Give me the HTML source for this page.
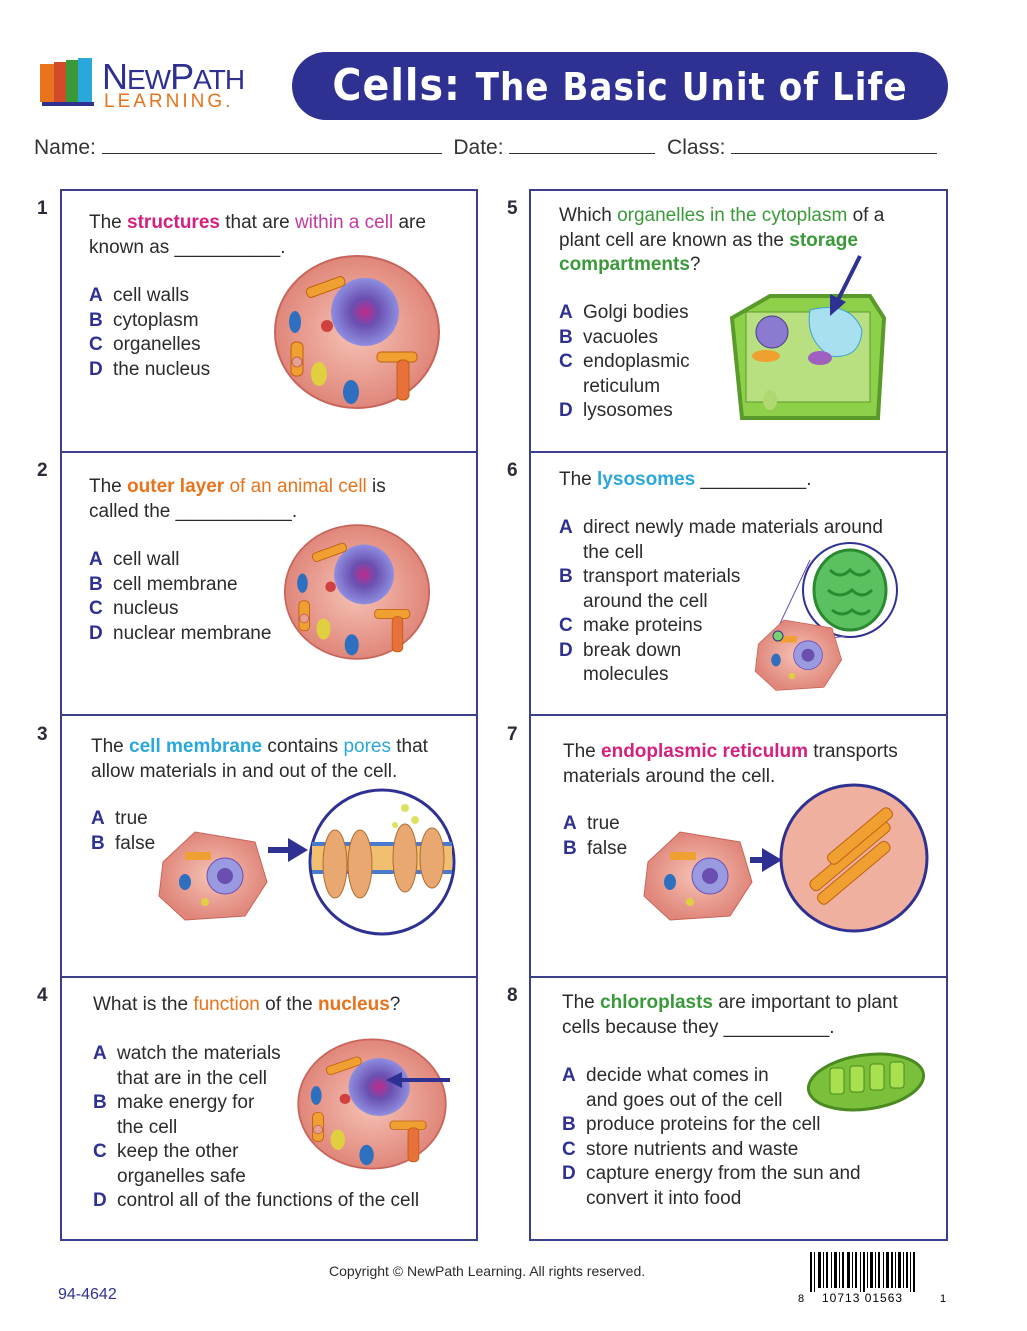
<!DOCTYPE html>
<html><head><meta charset="utf-8"><style>
body{margin:0;width:1027px;height:1331px;background:#fff;position:relative;font-family:"Liberation Sans",sans-serif;color:#2b2b2b;overflow:hidden}
.a{position:absolute}
.t{position:absolute;font-size:19px;line-height:24.5px}
.num{position:absolute;font-size:19px;font-weight:bold;color:#2b2b3b}
b.l{font-weight:bold;color:#2e3192;display:inline-block;width:24px}
.ind{padding-left:24px}
.mag{color:#d4207e}.pk{color:#c23a9e}.or{color:#e8731c}.bl{color:#2aa7dc}.gr{color:#3a9a3a}
.box{position:absolute;border:2px solid #3b3f8c;box-sizing:border-box}
</style></head><body>
<!-- logo -->
<div class="a" style="left:40px;top:58px;width:56px;height:50px">
<div class="a" style="left:0;top:6px;width:14px;height:38px;background:#e8731c"></div>
<div class="a" style="left:14px;top:4px;width:12px;height:40px;background:#d24a2a"></div>
<div class="a" style="left:26px;top:2px;width:12px;height:42px;background:#3a9a3a"></div>
<div class="a" style="left:38px;top:0;width:14px;height:44px;background:#2aa7dc"></div>
<div class="a" style="left:2px;top:44px;width:52px;height:4px;background:#2e3192"></div>
</div>
<div class="a" style="left:102px;top:56px;font-size:36px;color:#2e3192;letter-spacing:-1px">N<span style="font-size:28px">EW</span>P<span style="font-size:28px">ATH</span></div>
<div class="a" style="left:104px;top:91px;font-size:19px;color:#e8731c;letter-spacing:3px">LEARNING.</div>
<div class="a" style="left:292px;top:52px;width:656px;height:68px;background:#2e3192;border-radius:34px"></div>
<div class="a" style="left:292px;top:60px;width:656px;text-align:center;color:#fff;font-size:44px;font-weight:bold;font-family:'DejaVu Sans Condensed','DejaVu Sans','Liberation Sans',sans-serif;font-stretch:condensed;letter-spacing:1px">Cells: <span style="font-size:38px">The Basic Unit of Life</span></div>
<div class="a" style="left:34px;top:136px;font-size:21px;color:#333">Name: <span style="display:inline-block;width:340px;border-bottom:1px solid #333"></span>&nbsp; Date: <span style="display:inline-block;width:146px;border-bottom:1px solid #333"></span>&nbsp; Class: <span style="display:inline-block;width:206px;border-bottom:1px solid #333"></span></div>

<!-- boxes -->
<div class="box" style="left:60px;top:189px;width:418px;height:1052px"></div>
<div class="box" style="left:529px;top:189px;width:419px;height:1052px"></div>
<div class="a" style="left:60px;top:451px;width:418px;height:2px;background:#3b3f8c"></div>
<div class="a" style="left:60px;top:714px;width:418px;height:2px;background:#3b3f8c"></div>
<div class="a" style="left:60px;top:976px;width:418px;height:2px;background:#3b3f8c"></div>
<div class="a" style="left:529px;top:451px;width:419px;height:2px;background:#3b3f8c"></div>
<div class="a" style="left:529px;top:714px;width:419px;height:2px;background:#3b3f8c"></div>
<div class="a" style="left:529px;top:976px;width:419px;height:2px;background:#3b3f8c"></div>

<div class="num" style="left:37px;top:198px">1</div>
<div class="num" style="left:37px;top:460px">2</div>
<div class="num" style="left:37px;top:724px">3</div>
<div class="num" style="left:37px;top:985px">4</div>
<div class="num" style="left:507px;top:198px">5</div>
<div class="num" style="left:507px;top:460px">6</div>
<div class="num" style="left:507px;top:724px">7</div>
<div class="num" style="left:507px;top:985px">8</div>

<svg class="a" style="left:0;top:0" width="1027" height="1331">
<defs>
<radialGradient id="cg"><stop offset="0" stop-color="#f6c3b6"/><stop offset="1" stop-color="#e0867a"/></radialGradient>
<radialGradient id="ng"><stop offset="0" stop-color="#c02a8a"/><stop offset=".4" stop-color="#6a4fb0"/><stop offset="1" stop-color="#8e8ee0"/></radialGradient>
<g id="cell">
<ellipse cx="0" cy="0" rx="82" ry="76" fill="url(#cg)" stroke="#c8645a" stroke-width="2"/>
<circle cx="8" cy="-20" r="34" fill="url(#ng)"/>
<g fill="#f0a030" stroke="#c06010"><rect x="-34" y="-58" width="40" height="10" rx="4" transform="rotate(-20)"/><rect x="20" y="20" width="40" height="10" rx="4"/><rect x="-66" y="10" width="12" height="34" rx="5"/><rect x="40" y="28" width="12" height="40" rx="5" fill="#e8703a"/></g>
<ellipse cx="-62" cy="-10" rx="6" ry="11" fill="#2f6fc0"/><ellipse cx="-6" cy="60" rx="8" ry="12" fill="#2f6fc0"/>
<ellipse cx="-38" cy="42" rx="8" ry="12" fill="#e0d040"/><circle cx="-30" cy="-6" r="6" fill="#d04040"/><circle cx="-60" cy="30" r="5" fill="#e8a090" stroke="#c06060"/>
</g>
<g id="cut">
<path d="M-52,-10 L-20,-40 L40,-30 L52,10 L30,44 L-30,48 L-56,24 Z" fill="url(#cg)" stroke="#c8645a"/>
<circle cx="10" cy="4" r="18" fill="#9a9ae0" stroke="#6a4fb0"/><circle cx="10" cy="4" r="8" fill="#6a4fb0"/>
<rect x="-30" y="-20" width="26" height="8" fill="#f0a030"/><ellipse cx="-30" cy="10" rx="6" ry="8" fill="#2f6fc0"/><circle cx="-10" cy="30" r="4" fill="#e0d040"/>
</g>
</defs>
<use href="#cell" x="357" y="332"/>
<use href="#cell" x="357" y="592" transform="translate(357 592) scale(.88) translate(-357 -592)"/>
<use href="#cell" x="372" y="1104" transform="translate(372 1104) scale(.9 .85) translate(-372 -1104)"/>
<line x1="390" y1="1080" x2="450" y2="1080" stroke="#2e3192" stroke-width="4"/><path d="M386,1080 L402,1072 L402,1088Z" fill="#2e3192"/>
<use href="#cut" x="215" y="872"/>
<line x1="268" y1="850" x2="292" y2="850" stroke="#2e3192" stroke-width="6"/><path d="M308,850 L288,838 L288,862Z" fill="#2e3192"/>
<circle cx="382" cy="862" r="72" fill="#fff" stroke="#2e3192" stroke-width="3"/>
<rect x="312" y="846" width="140" height="24" fill="#f0c070"/><rect x="312" y="842" width="140" height="4" fill="#4a7ad0"/><rect x="312" y="870" width="140" height="4" fill="#4a7ad0"/>
<g fill="#e8a870" stroke="#b06a30"><ellipse cx="335" cy="864" rx="12" ry="34"/><ellipse cx="360" cy="864" rx="12" ry="34"/><ellipse cx="405" cy="858" rx="12" ry="34"/><ellipse cx="432" cy="858" rx="12" ry="30"/></g>
<g fill="#e0e060"><circle cx="405" cy="808" r="4"/><circle cx="415" cy="820" r="4"/><circle cx="395" cy="825" r="3"/></g>
<use href="#cut" x="700" y="872"/>
<line x1="750" y1="860" x2="766" y2="860" stroke="#2e3192" stroke-width="6"/><path d="M782,860 L762,848 L762,872Z" fill="#2e3192"/>
<circle cx="854" cy="858" r="73" fill="#f0b0a0" stroke="#2e3192" stroke-width="3"/>
<g fill="#f0a030" stroke="#c06010"><rect x="800" y="850" width="100" height="12" rx="5" transform="rotate(-40 850 856)"/><rect x="810" y="870" width="90" height="12" rx="5" transform="rotate(-40 850 876)"/><rect x="820" y="830" width="80" height="12" rx="5" transform="rotate(-40 860 836)"/></g>
<path d="M732,318 L770,296 L870,296 L884,318 L878,418 L742,418 Z" fill="#8fd04a" stroke="#5a9a2a" stroke-width="4"/>
<rect x="746" y="312" width="124" height="90" fill="#b8e080" stroke="#5a9a2a"/>
<path d="M810,310 Q850,300 862,330 Q860,360 830,356 Q805,340 810,310Z" fill="#a8e0f0" stroke="#3aa0d0"/>
<circle cx="772" cy="332" r="16" fill="#8a7ad0" stroke="#4a3a90"/><ellipse cx="766" cy="356" rx="14" ry="6" fill="#f0a030"/><ellipse cx="820" cy="358" rx="12" ry="7" fill="#a060c0"/><ellipse cx="770" cy="400" rx="7" ry="10" fill="#b0d870"/>
<line x1="860" y1="256" x2="838" y2="300" stroke="#2e3192" stroke-width="4"/><path d="M830,316 L830,294 L846,302Z" fill="#2e3192"/>
<circle cx="850" cy="590" r="47" fill="#fff" stroke="#2e3192" stroke-width="2"/>
<ellipse cx="850" cy="590" rx="36" ry="40" fill="#5ac060" stroke="#2a8a30" stroke-width="3"/>
<path d="M830,570 q10,10 20,0 q10,10 20,0 M828,590 q12,10 24,0 q10,10 20,0 M832,610 q10,8 20,0 q10,8 18,0" stroke="#2a8a30" stroke-width="3" fill="none"/>
<line x1="776" y1="632" x2="810" y2="560" stroke="#6a4fb0"/><line x1="786" y1="645" x2="846" y2="636" stroke="#6a4fb0"/>
<use href="#cut" x="800" y="652" transform="translate(800 652) scale(.8) translate(-800 -652)"/>
<circle cx="778" cy="636" r="5" fill="#7ad070" stroke="#2e3192"/>
<ellipse cx="866" cy="1082" rx="58" ry="27" transform="rotate(-8 866 1082)" fill="#7ac03a" stroke="#4a8a20" stroke-width="3"/>
<g fill="#a8e050" stroke="#4a8a20"><rect x="830" y="1068" width="14" height="26" rx="3"/><rect x="850" y="1066" width="14" height="26" rx="3"/><rect x="870" y="1064" width="14" height="26" rx="3"/><rect x="890" y="1062" width="14" height="26" rx="3"/></g>
<g fill="#000">
<rect x="810" y="1252" width="2" height="40"/><rect x="814" y="1252" width="1" height="40"/><rect x="818" y="1252" width="3" height="36"/><rect x="823" y="1252" width="1" height="36"/><rect x="826" y="1252" width="2" height="36"/><rect x="831" y="1252" width="1" height="36"/><rect x="834" y="1252" width="3" height="36"/><rect x="839" y="1252" width="1" height="36"/><rect x="842" y="1252" width="2" height="36"/><rect x="847" y="1252" width="3" height="36"/><rect x="852" y="1252" width="1" height="36"/><rect x="855" y="1252" width="2" height="36"/><rect x="860" y="1252" width="1" height="40"/><rect x="863" y="1252" width="2" height="40"/><rect x="867" y="1252" width="1" height="36"/><rect x="870" y="1252" width="3" height="36"/><rect x="875" y="1252" width="1" height="36"/><rect x="878" y="1252" width="2" height="36"/><rect x="883" y="1252" width="1" height="36"/><rect x="886" y="1252" width="3" height="36"/><rect x="891" y="1252" width="2" height="36"/><rect x="895" y="1252" width="1" height="36"/><rect x="898" y="1252" width="3" height="36"/><rect x="903" y="1252" width="1" height="36"/><rect x="906" y="1252" width="2" height="36"/><rect x="910" y="1252" width="1" height="40"/><rect x="913" y="1252" width="2" height="40"/>
</g>
<text x="798" y="1302" font-size="11" font-family="Liberation Sans">8</text>
<text x="822" y="1302" font-size="12" font-family="Liberation Sans" letter-spacing="1">10713 01563</text>
<text x="940" y="1302" font-size="11" font-family="Liberation Sans">1</text>
</svg>

<div class="t" style="left:89px;top:211px">The <b class="mag">structures</b> that are <span class="pk">within a cell</span> are<br>known as __________.</div>
<div class="t" style="left:89px;top:284px"><b class="l">A</b>cell walls<br><b class="l">B</b>cytoplasm<br><b class="l">C</b>organelles<br><b class="l">D</b>the nucleus</div>

<div class="t" style="left:89px;top:475px">The <b class="or">outer layer</b> <span class="or">of an animal cell</span> is<br>called the ___________.</div>
<div class="t" style="left:89px;top:548px"><b class="l">A</b>cell wall<br><b class="l">B</b>cell membrane<br><b class="l">C</b>nucleus<br><b class="l">D</b>nuclear membrane</div>

<div class="t" style="left:91px;top:735px">The <b class="bl">cell membrane</b> contains <span class="bl">pores</span> that<br>allow materials in and out of the cell.</div>
<div class="t" style="left:91px;top:807px"><b class="l">A</b>true<br><b class="l">B</b>false</div>

<div class="t" style="left:93px;top:993px">What is the <span class="or">function</span> of the <b class="or">nucleus</b>?</div>
<div class="t" style="left:93px;top:1042px"><b class="l">A</b>watch the materials<br><span class="ind">that are in the cell</span><br><b class="l">B</b>make energy for<br><span class="ind">the cell</span><br><b class="l">C</b>keep the other<br><span class="ind">organelles safe</span><br><b class="l">D</b>control all of the functions of the cell</div>

<div class="t" style="left:559px;top:204px">Which <span class="gr">organelles in the cytoplasm</span> of a<br>plant cell are known as the <b class="gr">storage<br>compartments</b>?</div>
<div class="t" style="left:559px;top:301px"><b class="l">A</b>Golgi bodies<br><b class="l">B</b>vacuoles<br><b class="l">C</b>endoplasmic<br><span class="ind">reticulum</span><br><b class="l">D</b>lysosomes</div>

<div class="t" style="left:559px;top:468px">The <b class="bl">lysosomes</b> __________.</div>
<div class="t" style="left:559px;top:516px"><b class="l">A</b>direct newly made materials around<br><span class="ind">the cell</span><br><b class="l">B</b>transport materials<br><span class="ind">around the cell</span><br><b class="l">C</b>make proteins<br><b class="l">D</b>break down<br><span class="ind">molecules</span></div>

<div class="t" style="left:563px;top:740px">The <b class="mag">endoplasmic reticulum</b> transports<br>materials around the cell.</div>
<div class="t" style="left:563px;top:812px"><b class="l">A</b>true<br><b class="l">B</b>false</div>

<div class="t" style="left:562px;top:991px">The <b class="gr">chloroplasts</b> are important to plant<br>cells because they __________.</div>
<div class="t" style="left:562px;top:1064px"><b class="l">A</b>decide what comes in<br><span class="ind">and goes out of the cell</span><br><b class="l">B</b>produce proteins for the cell<br><b class="l">C</b>store nutrients and waste<br><b class="l">D</b>capture energy from the sun and<br><span class="ind">convert it into food</span></div>

<div class="a" style="left:329px;top:1263px;font-size:14px">Copyright © NewPath Learning. All rights reserved.</div>
<div class="a" style="left:58px;top:1286px;font-size:16px;color:#2e3192">94-4642</div>
</body></html>
